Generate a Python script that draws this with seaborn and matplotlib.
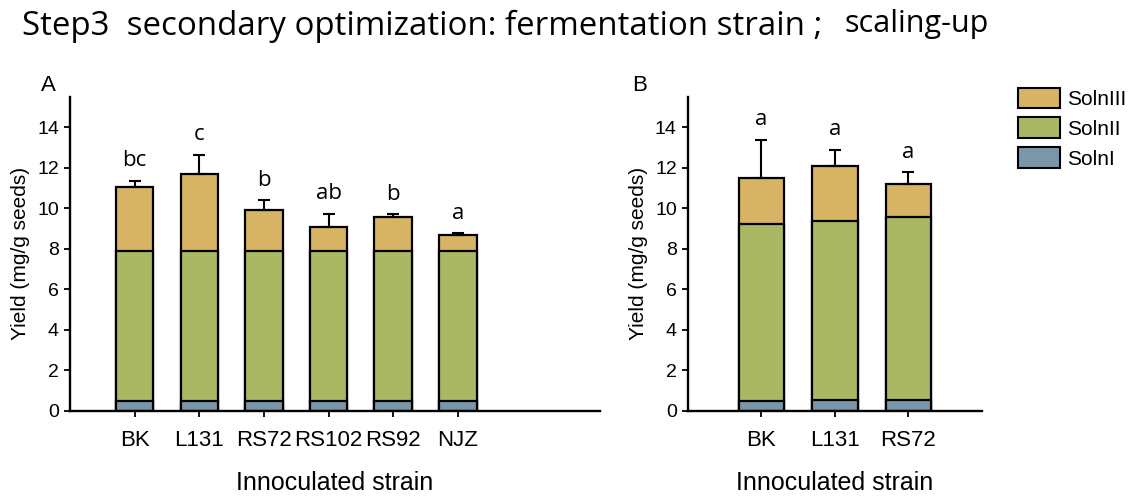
import matplotlib
matplotlib.use("Agg")
import matplotlib.pyplot as plt
import numpy as np
import pandas as pd
import seaborn as sns
from matplotlib.patches import Patch

sns.set_theme(style="ticks")
plt.rcParams['font.family'] = ['Liberation Sans', 'DejaVu Sans']
plt.rcParams['text.color'] = 'black'
plt.rcParams['axes.labelcolor'] = 'black'

# data, panel A (fermentation strain)
strains_a = ["BK", "L131", "RS72", "RS102", "RS92", "NJZ"]
soln1_a = [0.5, 0.5, 0.5, 0.5, 0.5, 0.5]
soln2_a = [7.4, 7.4, 7.4, 7.4, 7.4, 7.4]
soln3_a = [3.13, 3.77, 2.03, 1.18, 1.66, 0.79]
err_a = [0.33, 0.97, 0.45, 0.64, 0.13, 0.06]
letters_a = ["bc", "c", "b", "ab", "b", "a"]

# data, panel B (scaling-up)
strains_b = ["BK", "L131", "RS72"]
soln1_b = [0.5, 0.52, 0.55]
soln2_b = [8.7, 8.87, 9.03]
soln3_b = [2.28, 2.71, 1.62]
err_b = [1.9, 0.77, 0.56]
letters_b = ["a", "a", "a"]

series = ["SolnIII", "SolnII", "SolnI"]
colors = {"SolnIII": "#d6b463", "SolnII": "#abb863", "SolnI": "#7b96a8"}
title_font = ["Open Sans", "DejaVu Sans"]


def stacked(ax, strains, s1, s2, s3, err, letters, width, xmax):
    df = pd.DataFrame({"strain": strains, "SolnI": s1, "SolnII": s2, "SolnIII": s3})
    df["c1"] = df["SolnI"]
    df["c2"] = df["c1"] + df["SolnII"]
    df["c3"] = df["c2"] + df["SolnIII"]
    for col, name in [("c3", "SolnIII"), ("c2", "SolnII"), ("c1", "SolnI")]:
        sns.barplot(data=df, x="strain", y=col, color=colors[name], saturation=1,
                    width=width, edgecolor="black", linewidth=1.6, ax=ax)
    x = np.arange(len(strains))
    ax.errorbar(x, df["c3"], yerr=[np.zeros(len(err)), err], fmt="none",
                ecolor="black", elinewidth=1.5, capsize=4.5, capthick=1.5)
    for xi, top, e, lab in zip(x, df["c3"], err, letters):
        ax.text(xi, top + e + 1.0, lab, ha="center", va="center", fontsize=16,
                family=title_font)
    ax.set_ylim(0, 15.5)
    ax.set_yticks(range(0, 15, 2))
    ax.set_xlim(-1, xmax)
    sns.despine(ax=ax)
    ax.spines["left"].set_linewidth(1.7)
    ax.spines["bottom"].set_linewidth(1.7)
    ax.spines["left"].set_color("black")
    ax.spines["bottom"].set_color("black")
    ax.tick_params(axis="both", width=1.3, length=4, colors="black")
    ax.tick_params(axis="x", labelsize=16, pad=10)
    ax.tick_params(axis="y", labelsize=14, pad=4)
    ax.set_xlabel("Innoculated strain", fontsize=18, labelpad=14)
    ax.set_ylabel("Yield (mg/g seeds)", fontsize=15, labelpad=5)


fig = plt.figure(figsize=(11.46, 5.01), dpi=100)
ax_a = fig.add_axes([0.0611, 0.180, 0.4625, 0.627])
ax_b = fig.add_axes([0.6003, 0.180, 0.2565, 0.627])

stacked(ax_a, strains_a, soln1_a, soln2_a, soln3_a, err_a, letters_a, 0.58, 7.2)
stacked(ax_b, strains_b, soln1_b, soln2_b, soln3_b, err_b, letters_b, 0.62, 3.0)

fig.text(0.036, 0.830, "A", fontsize=16, va="center")
fig.text(0.5515, 0.830, "B", fontsize=16, va="center")

handles = [Patch(facecolor=colors[s], edgecolor="black", linewidth=1.5, label=s) for s in series]
fig.legend(handles=handles, loc="upper left", bbox_to_anchor=(0.8885, 0.825), frameon=False,
           fontsize=15, handlelength=2.0, handleheight=1.15, labelspacing=0.4,
           handletextpad=0.35, borderaxespad=0, borderpad=0)

fig.text(0.019, 0.930, "Step3  secondary optimization: fermentation strain ;",
         fontsize=23.8, va="baseline", family=title_font)
fig.text(0.737, 0.936, "scaling-up", fontsize=22, va="baseline", family=title_font)

fig.savefig("out.png", dpi=100)
